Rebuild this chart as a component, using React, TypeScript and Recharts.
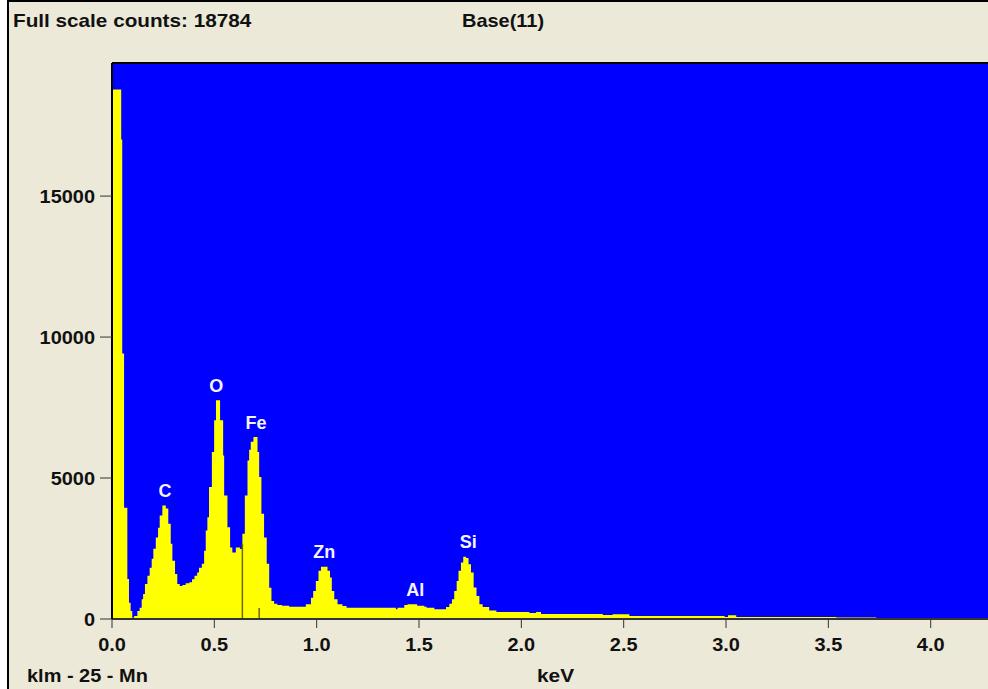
import React from 'react';
import { AreaChart, Area, XAxis, YAxis, CartesianGrid, ReferenceLine, ReferenceDot } from 'recharts';

// spectrum: counts hold from each energy up to the next one (step plot)
const energyKeV = [
  0, 0.045, 0.05, 0.059, 0.075, 0.083, 0.091, 0.099, 0.108, 0.124, 0.135, 0.145, 0.152, 0.161, 0.173,
  0.184, 0.194, 0.202, 0.214, 0.225, 0.233, 0.246, 0.263, 0.275, 0.287, 0.295, 0.308, 0.319, 0.331, 0.344,
  0.36, 0.378, 0.391, 0.403, 0.416, 0.425, 0.439, 0.45, 0.458, 0.466, 0.474, 0.488, 0.499, 0.508, 0.528,
  0.543, 0.548, 0.564, 0.577, 0.588, 0.605, 0.626, 0.637, 0.649, 0.662, 0.67, 0.678, 0.691, 0.711, 0.719,
  0.73, 0.743, 0.756, 0.768, 0.779, 0.792, 0.808, 0.831, 0.866, 0.947, 0.972, 0.983, 0.996, 1.009, 1.021,
  1.053, 1.065, 1.074, 1.086, 1.102, 1.126, 1.146, 1.387, 1.395, 1.428, 1.444, 1.491, 1.526, 1.537, 1.575,
  1.632, 1.648, 1.661, 1.672, 1.684, 1.693, 1.705, 1.716, 1.73, 1.742, 1.754, 1.767, 1.781, 1.795, 1.811,
  1.843, 1.878, 2.039, 2.072, 2.096, 2.398, 2.446, 2.528, 2.993, 3.01, 3.05, 3.539, 3.734, 4.28,
];
const counts = [
  18784, 17010, 9420, 3950, 1420, 580, 285, 46, 107, 285, 403, 700, 890, 1245, 1530,
  1814, 2135, 2490, 2895, 3240, 3667, 4022, 3915, 3380, 2670, 2064, 1600, 1245, 1170, 1210,
  1270, 1300, 1410, 1530, 1650, 1814, 1957, 2420, 3140, 3607, 4685, 5920, 7047, 7760, 7047,
  5800, 4378, 3250, 2540, 2360, 2540, 2480, 3025, 4378, 5625, 6000, 6288, 6453, 5920, 5035,
  3737, 2895, 1957, 1110, 640, 545, 500, 470, 438, 523, 758, 997, 1352, 1708, 1850,
  1708, 1470, 997, 700, 523, 463, 402, 345, 402, 498, 523, 470, 438, 402, 345,
  427, 545, 700, 997, 1352, 1708, 2004, 2207, 2160, 1946, 1648, 1114, 819, 523, 427,
  300, 250, 210, 250, 180, 140, 170, 110, 75, 130, 75, 50, 30, 30,
];

const xTicks = [0, 0.5, 1, 1.5, 2, 2.5, 3, 3.5, 4];
const yTicks = [0, 5000, 10000, 15000];

// peak labels
const elements = ['C', 'O', 'Fe', 'Zn', 'Al', 'Si'];
const elementKeV = [0.259, 0.509, 0.704, 1.037, 1.482, 1.741];
const elementPeak = [4022, 7760, 6453, 1850, 523, 2207];

// the two dark marker lines inside the yellow
const markerKeV = [0.637, 0.719];
const markerTop = [2670, 390];

const FULL_SCALE = 18784;
const X_MAX = 4.28;
const Y_MAX = 19720;

const COLORS = {
  panel: '#ECE9D8',
  plot: '#0000FF',
  spectrum: '#FFFF00',
  marker: '#6B6B00',
  ink: '#111111',
  axis: '#333333',
  label: '#F4F4FF',
};
const FONT = '"Liberation Sans", Arial, sans-serif';
const FONT_SIZE = 19;

const spectrum = energyKeV.map((kev, i) => ({ kev, counts: counts[i] }));

const WideText = ({ x, y, anchor = 'middle', fill = COLORS.ink, stretch = 1.05, size = FONT_SIZE, children }: any) => (
  <text
    transform={`translate(${x},${y}) scale(${stretch},1)`}
    textAnchor={anchor}
    dy="0.36em"
    fill={fill}
    fontFamily={FONT}
    fontWeight="bold"
    fontSize={size}
  >
    {children}
  </text>
);

const XTick = ({ x, y, payload }: any) => (
  <WideText x={x} y={y + 14}>{Number(payload.value).toFixed(1)}</WideText>
);

const YTick = ({ y, payload }: any) => (
  <WideText x={95} y={y} anchor="end">{payload.value}</WideText>
);

const headerText = (left: number, top: number, stretch: number): React.CSSProperties => ({
  position: 'absolute',
  left,
  top,
  fontFamily: FONT,
  fontWeight: 'bold',
  fontSize: FONT_SIZE,
  lineHeight: FONT_SIZE + 'px',
  color: COLORS.ink,
  whiteSpace: 'nowrap',
  transform: `scaleX(${stretch})`,
  transformOrigin: 'left center',
});

export default function App() {
  return (
    <div style={{ position: 'absolute', left: 0, top: 0, width: 988, height: 689, background: '#fff', overflow: 'hidden' }}>
      <div
        style={{
          position: 'absolute', left: 7, top: 0, width: 981, height: 689,
          background: COLORS.panel, borderLeft: '2px solid #000', borderTop: '2px solid #000',
        }}
      />
      <div style={{ position: 'absolute', left: 0, top: 0 }}>
        <AreaChart width={988} height={689} data={spectrum} margin={{ top: 63, right: 0, bottom: 0, left: 0 }}>
          <CartesianGrid fill={COLORS.plot} stroke="none" horizontal={false} vertical={false} />
          <XAxis
            type="number"
            dataKey="kev"
            domain={[0, X_MAX]}
            ticks={xTicks}
            allowDataOverflow
            height={70}
            tickSize={9}
            axisLine={{ stroke: COLORS.axis, strokeWidth: 2 }}
            tickLine={{ stroke: COLORS.axis }}
            tick={<XTick />}
          />
          <YAxis
            type="number"
            domain={[0, Y_MAX]}
            ticks={yTicks}
            allowDataOverflow
            width={112}
            tickSize={12}
            axisLine={{ stroke: '#000', strokeWidth: 2 }}
            tickLine={{ stroke: COLORS.axis }}
            tick={<YTick />}
          />
          <Area
            type="stepAfter"
            dataKey="counts"
            stroke="none"
            fill={COLORS.spectrum}
            fillOpacity={1}
            baseValue={0}
            isAnimationActive={false}
          />
          <ReferenceLine y={Y_MAX} stroke="#000" strokeWidth={2} />
          {markerKeV.map((k, i) => (
            <ReferenceLine
              key={'m' + i}
              segment={[{ x: k, y: 0 }, { x: k, y: markerTop[i] }]}
              stroke={COLORS.marker}
              strokeWidth={1.5}
            />
          ))}
          {elements.map((name, i) => (
            <ReferenceDot
              key={name}
              x={elementKeV[i]}
              y={elementPeak[i]}
              r={0}
              shape={(p: any) => (
                <WideText x={p.cx} y={p.cy - 15} fill={COLORS.label} stretch={1} size={18}>{name}</WideText>
              )}
            />
          ))}
        </AreaChart>
      </div>
      <div style={headerText(13, 11, 1.09)}>Full scale counts: {FULL_SCALE}</div>
      <div style={headerText(462, 11, 1.05)}>Base(11)</div>
      <div style={headerText(27, 666, 1.05)}>klm - 25 - Mn</div>
      <div style={headerText(537, 666, 1.1)}>keV</div>
    </div>
  );
}
